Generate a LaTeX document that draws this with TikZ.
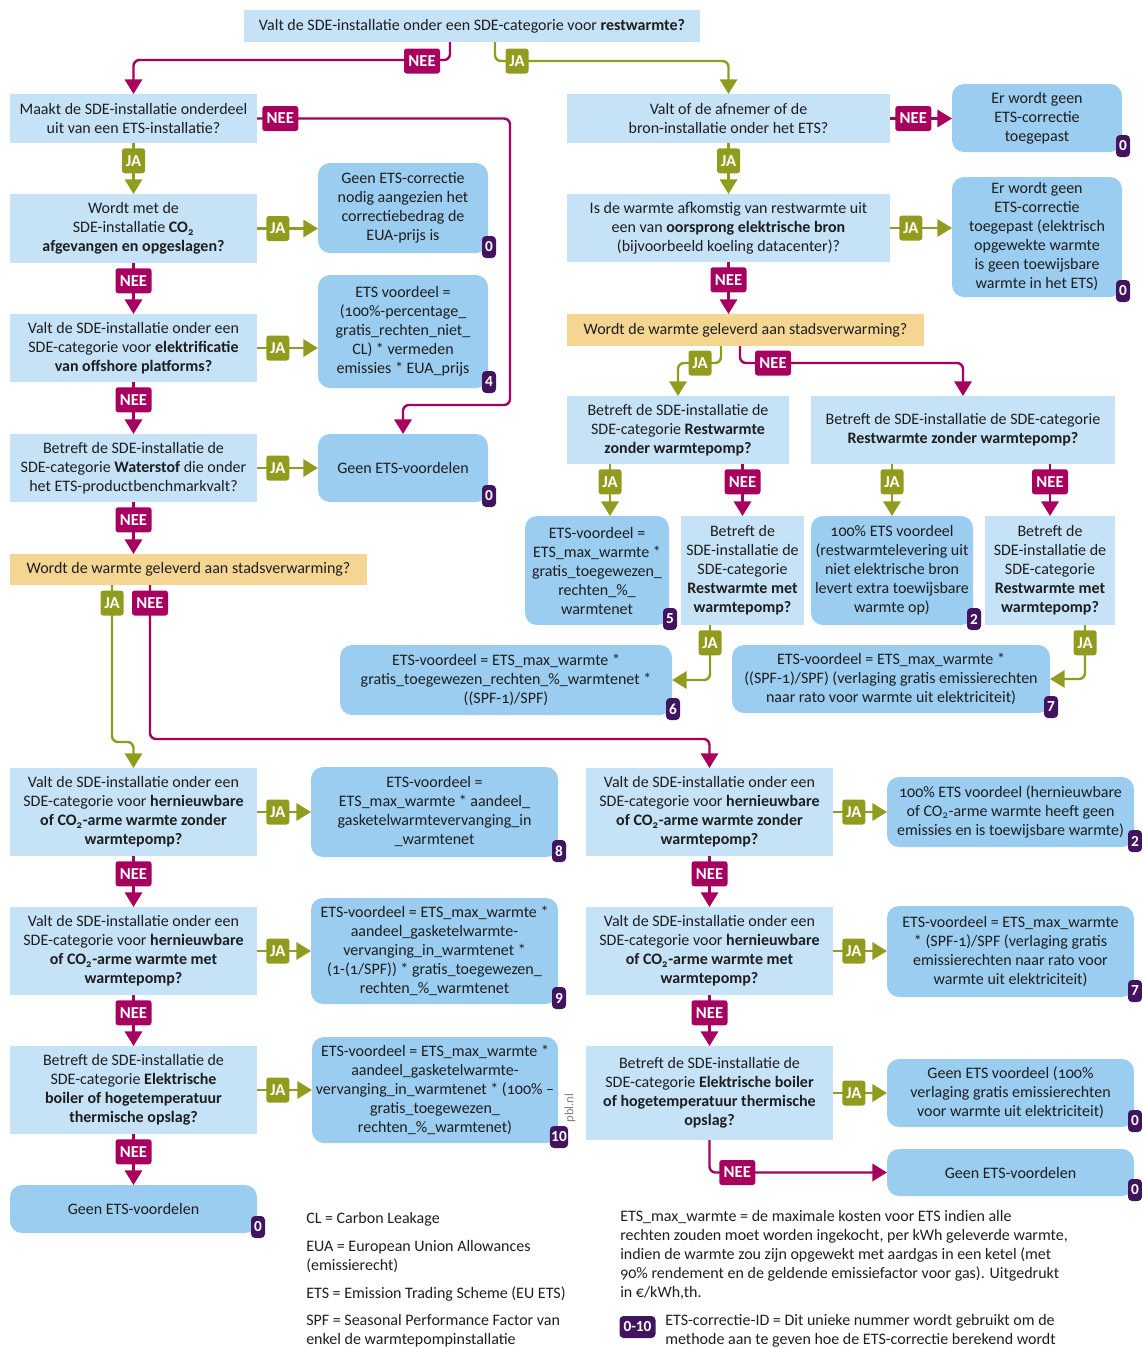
\documentclass[tikz,border=0pt]{standalone}
\usepackage{fontspec}
\setmainfont{Carlito}[Numbers=OldStyle]
\usetikzlibrary{arrows.meta,calc}
\definecolor{qblue}{HTML}{C6E2F7}
\definecolor{rblue}{HTML}{9ACDF0}
\definecolor{ylw}{HTML}{F5D592}
\definecolor{neec}{HTML}{A8005F}
\definecolor{jac}{HTML}{919C1F}
\definecolor{purp}{HTML}{42145F}
\definecolor{txt}{HTML}{1E1E1E}
\newcommand\flowbox[7]{\node[#2, minimum width={(#5-#3)*0.75pt}, minimum height={(#6-#4)*0.75pt}] (#1) at ({(#3+#5)/2},{(#4+#6)/2}) {#7};}
\newcommand\idbadge[3]{\node[badge] (#1) at ($(#2.south east)+(1,-6)$) {#3};}
\tikzset{
 qbox/.style={fill=qblue, inner sep=0pt, outer sep=0pt, align=center},
 rbox/.style={fill=rblue, rounded corners=9pt, inner sep=0pt, outer sep=0pt, align=center},
 ybox/.style={fill=ylw, inner sep=0pt, outer sep=0pt, align=center},
 conn/.style={line width=1.8pt, rounded corners=4.5pt, -{Triangle[width=13pt,length=11pt]}},
 nee/.style={conn, draw=neec},
 ja/.style={conn, draw=jac},
 lab/.style={text=white, font=\fontsize{12.5}{14}\selectfont\bfseries, minimum height=18.75pt, inner sep=0pt, rounded corners=2pt},
 neelab/.style={lab, fill=neec, minimum width=27pt},
 jalab/.style={lab, fill=jac, minimum width=17.25pt},
 badge/.style={fill=purp, text=white, font=\fontsize{11.5}{13}\selectfont\bfseries\addfontfeatures{Numbers=Lining}, rounded corners=3pt, minimum width=10.5pt, minimum height=16.5pt, inner sep=1pt},
 legend/.style={anchor=north west, align=left, inner sep=0pt},
}
\begin{document}
\begin{tikzpicture}[x=0.75pt,y=-0.75pt, font=\fontsize{12}{14.25}\selectfont, text=txt]
\useasboundingbox (0,0) rectangle (1142,1347);
% ---------- boxes ----------
\flowbox{T}{qbox}{244}{10}{700}{42}{Valt de SDE-installatie onder een SDE-categorie voor \textbf{restwarmte?}}
\flowbox{Q1}{qbox}{10}{94}{257}{143}{Maakt de SDE-installatie onderdeel\\uit van een ETS-installatie?}
\flowbox{Q2}{qbox}{10}{194}{257}{263}{Wordt met de\\SDE-installatie \textbf{CO\textsubscript{2}}\\\textbf{afgevangen en opgeslagen?}}
\flowbox{R1}{rbox}{318}{163}{488}{253}{Geen ETS-correctie\\nodig aangezien het\\correctiebedrag de\\EUA-prijs is}
\flowbox{Q3}{qbox}{10}{314}{257}{382}{Valt de SDE-installatie onder een\\SDE-categorie voor \textbf{elektrificatie}\\\textbf{van offshore platforms?}}
\flowbox{R2}{rbox}{318}{275}{488}{388}{ETS voordeel =\\(100\%-percentage\_\\gratis\_rechten\_niet\_\\CL) * vermeden\\emissies * EUA\_prijs}
\flowbox{Q4}{qbox}{10}{434}{257}{502}{Betreft de SDE-installatie de\\SDE-categorie \textbf{Waterstof} die onder\\het ETS-productbenchmarkvalt?}
\flowbox{R3}{rbox}{318}{434}{488}{502}{Geen ETS-voordelen}
\flowbox{Y1}{ybox}{10}{554}{367}{585}{Wordt de warmte geleverd aan stadsverwarming?}
\flowbox{Q5}{qbox}{10}{768}{257}{856}{Valt de SDE-installatie onder een\\SDE-categorie voor \textbf{hernieuwbare}\\\textbf{of CO\textsubscript{2}-arme warmte zonder}\\\textbf{warmtepomp?}}
\flowbox{R8}{rbox}{311}{767}{558}{857}{ETS-voordeel =\\ETS\_max\_warmte * aandeel\_\\gasketelwarmtevervanging\_in\\\_warmtenet}
\flowbox{Q6}{qbox}{10}{907}{257}{995}{Valt de SDE-installatie onder een\\SDE-categorie voor \textbf{hernieuwbare}\\\textbf{of CO\textsubscript{2}-arme warmte met}\\\textbf{warmtepomp?}}
\flowbox{R9}{rbox}{311}{898}{558}{1004}{ETS-voordeel = ETS\_max\_warmte *\\aandeel\_gasketelwarmte-\\vervanging\_in\_warmtenet *\\(1-(1/SPF)) * gratis\_toegewezen\_\\rechten\_\%\_warmtenet}
\flowbox{Q7}{qbox}{10}{1046}{257}{1134}{Betreft de SDE-installatie de\\SDE-categorie \textbf{Elektrische}\\\textbf{boiler of hogetemperatuur}\\\textbf{thermische opslag?}}
\flowbox{R10}{rbox}{312}{1037}{558}{1143}{ETS-voordeel = ETS\_max\_warmte *\\aandeel\_gasketelwarmte-\\vervanging\_in\_warmtenet * (100\% –\\gratis\_toegewezen\_\\rechten\_\%\_warmtenet)}
\flowbox{R11}{rbox}{10}{1185}{257}{1233}{Geen ETS-voordelen}
% right column
\flowbox{QR1}{qbox}{567}{94}{890}{143}{Valt of de afnemer of de\\bron-installatie onder het ETS?}
\flowbox{RR1}{rbox}{952}{84}{1122}{152}{Er wordt geen\\ETS-correctie\\toegepast}
\flowbox{QR2}{qbox}{567}{194}{890}{262}{Is de warmte afkomstig van restwarmte uit\\een van \textbf{oorsprong elektrische bron}\\(bijvoorbeeld koeling datacenter)?}
\flowbox{RR2}{rbox}{952}{177}{1122}{297}{Er wordt geen\\ETS-correctie\\toegepast (elektrisch\\opgewekte warmte\\is geen toewijsbare\\warmte in het ETS)}
\flowbox{Y2}{ybox}{567}{314}{924}{346}{Wordt de warmte geleverd aan stadsverwarming?}
\flowbox{QL}{qbox}{567}{396}{789}{464}{Betreft de SDE-installatie de\\SDE-categorie \textbf{Restwarmte}\\\textbf{zonder warmtepomp?}}
\flowbox{QR}{qbox}{811}{396}{1115}{464}{Betreft de SDE-installatie de SDE-categorie\\\textbf{Restwarmte zonder warmtepomp?}}
\flowbox{R5}{rbox}{525}{516}{669}{625}{ETS-voordeel =\\ETS\_max\_warmte *\\gratis\_toegewezen\_\\rechten\_\%\_\\warmtenet}
\flowbox{Q8}{qbox}{681}{516}{804}{625}{Betreft de\\SDE-installatie de\\SDE-categorie\\\textbf{Restwarmte met}\\\textbf{warmtepomp?}}
\flowbox{R2b}{rbox}{811}{516}{973}{625}{100\% ETS voordeel\\(restwarmtelevering uit\\niet elektrische bron\\levert extra toewijsbare\\warmte op)}
\flowbox{Q9}{qbox}{985}{516}{1115}{625}{Betreft de\\SDE-installatie de\\SDE-categorie\\\textbf{Restwarmte met}\\\textbf{warmtepomp?}}
\flowbox{R6}{rbox}{340}{645}{672}{715}{ETS-voordeel = ETS\_max\_warmte *\\gratis\_toegewezen\_rechten\_\%\_warmtenet *\\((SPF-1)/SPF)}
\flowbox{R7}{rbox}{732}{645}{1050}{713}{ETS-voordeel = ETS\_max\_warmte *\\((SPF-1)/SPF) (verlaging gratis emissierechten\\naar rato voor warmte uit elektriciteit)}
\flowbox{Q10}{qbox}{586}{768}{833}{856}{Valt de SDE-installatie onder een\\SDE-categorie voor \textbf{hernieuwbare}\\\textbf{of CO\textsubscript{2}-arme warmte zonder}\\\textbf{warmtepomp?}}
\flowbox{R2c}{rbox}{887}{777}{1134}{847}{100\% ETS voordeel (hernieuwbare\\of CO\textsubscript{2}-arme warmte heeft geen\\emissies en is toewijsbare warmte)}
\flowbox{Q11}{qbox}{586}{907}{833}{995}{Valt de SDE-installatie onder een\\SDE-categorie voor \textbf{hernieuwbare}\\\textbf{of CO\textsubscript{2}-arme warmte met}\\\textbf{warmtepomp?}}
\flowbox{R7b}{rbox}{887}{906}{1134}{997}{ETS-voordeel = ETS\_max\_warmte\\* (SPF-1)/SPF (verlaging gratis\\emissierechten naar rato voor\\warmte uit elektriciteit)}
\flowbox{Q12}{qbox}{586}{1046}{833}{1140}{Betreft de SDE-installatie de\\SDE-categorie \textbf{Elektrische boiler}\\\textbf{of hogetemperatuur thermische}\\\textbf{opslag?}}
\flowbox{R0a}{rbox}{887}{1059}{1134}{1127}{Geen ETS voordeel (100\%\\verlaging gratis emissierechten\\voor warmte uit elektriciteit)}
\flowbox{R0b}{rbox}{887}{1149}{1134}{1196}{Geen ETS-voordelen}
% ---------- connectors ----------
\draw[nee] ($(T.south)+(-22,0)$) |- ($(Q1.north)+(0,-34)$) -- (Q1.north);
\draw[ja] ($(T.south)+(23,0)$) |- ($(QR1.north)+(0,-33)$) -- (QR1.north);
\coordinate (c1) at (510,405);
\draw[nee] (Q1.east) -| (c1) -| (R3.north);
\draw[ja] (Q1.south) -- (Q2.north);
\draw[ja] (Q2.east) -- (Q2.east -| R1.west);
\draw[nee] (Q2.south) -- (Q3.north);
\draw[ja] (Q3.east) -- (Q3.east -| R2.west);
\draw[nee] (Q3.south) -- (Q4.north);
\draw[ja] (Q4.east) -- (Q4.east -| R3.west);
\draw[nee] (Q4.south) -- (Q4.south |- Y1.north);
\draw[ja] ($(Y1.south west)+(102,0)$) |- ($(Q5.north)+(0,-26)$) -- (Q5.north);
\draw[nee] ($(Y1.south west)+(140,0)$) |- ($(Q10.north)+(0,-29)$) -- (Q10.north);
\draw[ja] (Q5.east) -- (Q5.east -| R8.west);
\draw[nee] (Q5.south) -- (Q6.north);
\draw[ja] (Q6.east) -- (Q6.east -| R9.west);
\draw[nee] (Q6.south) -- (Q7.north);
\draw[ja] (Q7.east) -- (Q7.east -| R10.west);
\draw[nee] (Q7.south) -- (R11.north);
\draw[nee] (QR1.east) -- (QR1.east -| RR1.west);
\draw[ja] (QR1.south) -- (QR2.north);
\draw[ja] (QR2.east) -- (QR2.east -| RR2.west);
\draw[nee] (QR2.south) -- (QR2.south |- Y2.north);
\draw[ja] ($(Y2.south)+(-24.5,0)$) |- ($(QL.north)+(0,-33)$) -- (QL.north);
\draw[nee] ($(Y2.south)+(-5.5,0)$) |- ($(QR.north)+(0,-33)$) -- (QR.north);
\coordinate (x610) at (610,0);
\draw[ja] (QL.south -| x610) -- (R5.north -| x610);
\draw[nee] (QL.south -| Q8.north) -- (Q8.north);
\draw[ja] (QR.south -| R2b.north) -- (R2b.north);
\draw[nee] (QR.south -| Q9.north) -- (Q9.north);
\draw[ja] ($(Q8.south)+(-32.5,0)$) |- (R6.east);
\draw[ja] ($(Q9.south)+(35,0)$) |- (R7.east);
\draw[ja] (Q10.east) -- (Q10.east -| R2c.west);
\draw[nee] (Q10.south) -- (Q11.north);
\draw[ja] (Q11.east) -- (Q11.east -| R7b.west);
\draw[nee] (Q11.south) -- (Q12.north);
\draw[ja] (Q12.east) -- (Q12.east -| R0a.west);
\draw[nee] (Q12.south) |- (R0b.west);
% ---------- labels ----------
\node[neelab] (l1) at (422,61) {NEE};
\node[jalab] (l2) at (517,61) {JA};
\node[neelab, anchor=west] (l3) at ($(Q1.east)+(5,0)$) {NEE};
\node[jalab, anchor=north] (l4) at ($(Q1.south)+(0,5)$) {JA};
\node[jalab, anchor=west] (l5) at ($(Q2.east)+(9,0)$) {JA};
\node[neelab, anchor=north] (l6) at ($(Q2.south)+(0,5)$) {NEE};
\node[jalab, anchor=west] (l7) at ($(Q3.east)+(9,0)$) {JA};
\node[neelab, anchor=north] (l8) at ($(Q3.south)+(0,5)$) {NEE};
\node[jalab, anchor=west] (l9) at ($(Q4.east)+(9,0)$) {JA};
\node[neelab, anchor=north] (l10) at ($(Q4.south)+(0,5)$) {NEE};
\node[jalab] (l11) at (112,603) {JA};
\node[neelab] (l12) at (150,603) {NEE};
\node[jalab, anchor=west] (l13) at ($(Q5.east)+(9,0)$) {JA};
\node[neelab, anchor=north] (l14) at ($(Q5.south)+(0,5)$) {NEE};
\node[jalab, anchor=west] (l15) at ($(Q6.east)+(9,0)$) {JA};
\node[neelab, anchor=north] (l16) at ($(Q6.south)+(0,5)$) {NEE};
\node[jalab, anchor=west] (l17) at ($(Q7.east)+(9,0)$) {JA};
\node[neelab, anchor=north] (l18) at ($(Q7.south)+(0,5)$) {NEE};
\node[neelab, anchor=west] (l19) at ($(QR1.east)+(5,0)$) {NEE};
\node[jalab, anchor=north] (l20) at ($(QR1.south)+(0,5)$) {JA};
\node[jalab, anchor=west] (l21) at ($(QR2.east)+(9,0)$) {JA};
\node[neelab, anchor=north] (l22) at ($(QR2.south)+(0,5)$) {NEE};
\node[jalab] (l23) at (700,363) {JA};
\node[neelab] (l24) at (773,363) {NEE};
\node[jalab, anchor=north] (l25) at ($(QL.south -| x610)+(0,5)$) {JA};
\node[neelab, anchor=north] (l26) at ($(QL.south -| Q8.north)+(0,5)$) {NEE};
\node[jalab, anchor=north] (l27) at ($(QR.south -| R2b.north)+(0,5)$) {JA};
\node[neelab, anchor=north] (l28) at ($(QR.south -| Q9.north)+(0,5)$) {NEE};
\node[jalab, anchor=north] (l29) at ($(Q8.south)+(-32.5,5)$) {JA};
\node[jalab, anchor=north] (l30) at ($(Q9.south)+(35,5)$) {JA};
\node[jalab, anchor=west] (l31) at ($(Q10.east)+(9,0)$) {JA};
\node[neelab, anchor=north] (l32) at ($(Q10.south)+(0,5)$) {NEE};
\node[jalab, anchor=west] (l33) at ($(Q11.east)+(9,0)$) {JA};
\node[neelab, anchor=north] (l34) at ($(Q11.south)+(0,5)$) {NEE};
\node[jalab, anchor=west] (l35) at ($(Q12.east)+(9,0)$) {JA};
\node[neelab, anchor=west] (l36) at ($(Q12.south |- R0b.west)+(9.5,0)$) {NEE};
% ---------- badges ----------
\idbadge{b1}{R1}{0}
\idbadge{b2}{R2}{4}
\idbadge{b3}{R3}{0}
\idbadge{b4}{RR1}{0}
\idbadge{b5}{RR2}{0}
\idbadge{b6}{R5}{5}
\idbadge{b7}{R2b}{2}
\idbadge{b8}{R6}{6}
\idbadge{b9}{R7}{7}
\idbadge{b10}{R8}{8}
\idbadge{b11}{R9}{9}
\idbadge{b12}{R10}{10}
\idbadge{b13}{R11}{0}
\idbadge{b14}{R2c}{2}
\idbadge{b15}{R7b}{7}
\idbadge{b16}{R0a}{0}
\idbadge{b17}{R0b}{0}
\node[rotate=90, text=gray, font=\fontsize{9.5}{10}\selectfont] (pbl) at (570,1108) {pbl.nl};
% ---------- legend ----------
\node[legend] (lg1) at (306,1212) {CL = Carbon Leakage};
\node[legend] (lg2) at (306,1240) {EUA = European Union Allowances\\(emissierecht)};
\node[legend] (lg3) at (306,1287) {ETS = Emission Trading Scheme (EU ETS)};
\node[legend] (lg4) at (306,1314) {SPF = Seasonal Performance Factor van\\enkel de warmtepompinstallatie};
\node[legend] (lg5) at (620,1210) {ETS\_max\_warmte = de maximale kosten voor ETS indien alle\\rechten zouden moet worden ingekocht, per kWh geleverde warmte,\\indien de warmte zou zijn opgewekt met aardgas in een ketel (met\\90\% rendement en de geldende emissiefactor voor gas). Uitgedrukt\\in €/kWh,th.};
\node[badge, minimum width=27pt] (lgb) at (637.5,1327) {0-10};
\node[legend] (lg6) at (665,1314) {ETS-correctie-ID = Dit unieke nummer wordt gebruikt om de\\methode aan te geven hoe de ETS-correctie berekend wordt};
\end{tikzpicture}
\end{document}
